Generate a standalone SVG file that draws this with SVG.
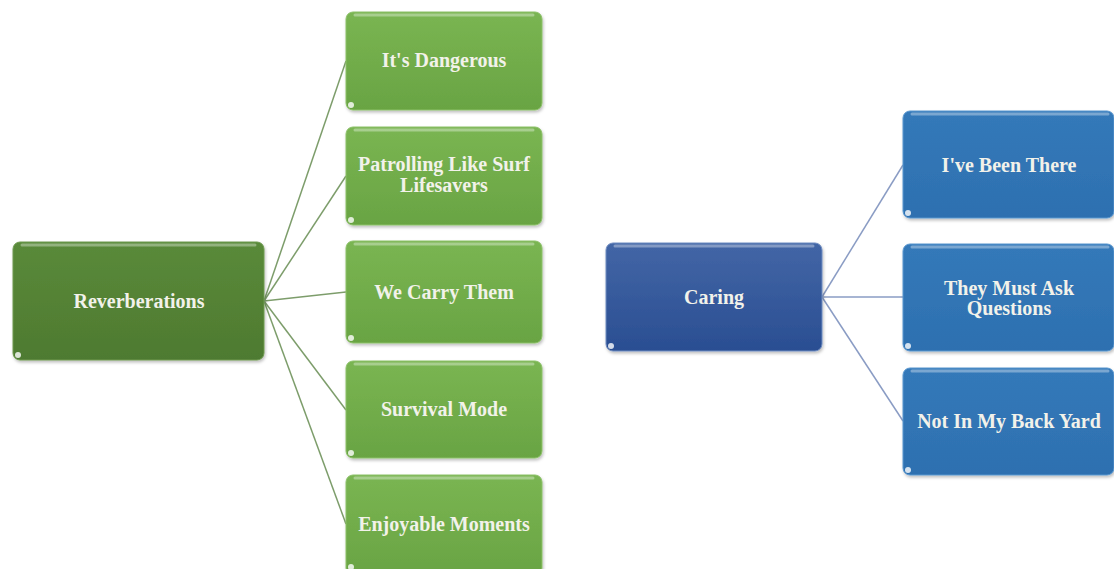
<svg xmlns="http://www.w3.org/2000/svg" width="1114" height="569" viewBox="0 0 1114 569">
<defs>
<linearGradient id="gDark" x1="0" y1="0" x2="0" y2="1"><stop offset="0" stop-color="#5a8a3a"/><stop offset="1" stop-color="#4e7a30"/></linearGradient>
<linearGradient id="gLight" x1="0" y1="0" x2="0" y2="1"><stop offset="0" stop-color="#7ab552"/><stop offset="1" stop-color="#69a443"/></linearGradient>
<linearGradient id="bDark" x1="0" y1="0" x2="0" y2="1"><stop offset="0" stop-color="#4366a6"/><stop offset="1" stop-color="#2a4e92"/></linearGradient>
<linearGradient id="bLight" x1="0" y1="0" x2="0" y2="1"><stop offset="0" stop-color="#3479b9"/><stop offset="1" stop-color="#2d70b0"/></linearGradient>
<filter id="sh" x="-10%" y="-10%" width="120%" height="130%"><feDropShadow dx="1" dy="2" stdDeviation="1.5" flood-color="#000" flood-opacity="0.25"/></filter>
</defs>
<style>
.box{filter:url(#sh)}
.hl{fill:none;stroke:#ffffff;stroke-opacity:0.35;stroke-width:3;stroke-linecap:round}
.dot{fill:#ffffff;fill-opacity:0.8}
.t{font-family:"Liberation Serif","Times New Roman",serif;font-weight:bold;font-size:20px;fill:#f2f2ea;text-anchor:middle}
.cg{stroke:#7d9d6b;stroke-width:1.5;fill:none}
.cb{stroke:#8a9cc4;stroke-width:1.5;fill:none}
</style>
<g id="connectors">
<line class="cg" x1="264" y1="301" x2="346" y2="61"/>
<line class="cg" x1="264" y1="301" x2="346" y2="176"/>
<line class="cg" x1="264" y1="301" x2="346" y2="292"/>
<line class="cg" x1="264" y1="301" x2="346" y2="410"/>
<line class="cg" x1="264" y1="301" x2="346" y2="524"/>
<line class="cb" x1="822" y1="297" x2="903" y2="165"/>
<line class="cb" x1="822" y1="297" x2="903" y2="297"/>
<line class="cb" x1="822" y1="297" x2="903" y2="421"/>
</g>
<g id="reverberations">
<rect class="box" x="13" y="242" width="251" height="118" rx="7" fill="url(#gDark)" stroke="#6e9a50" stroke-width="1"/>
<line class="hl" x1="22" y1="245" x2="255" y2="245"/>
<circle class="dot" cx="18" cy="355" r="3"/>
<text class="t" x="139" y="308">Reverberations</text>
</g>
<g id="dangerous">
<rect class="box" x="346" y="12" width="196" height="98" rx="7" fill="url(#gLight)" stroke="#8cc068" stroke-width="1"/>
<line class="hl" x1="355" y1="15" x2="533" y2="15"/>
<circle class="dot" cx="351" cy="105" r="3"/>
<text class="t" x="444" y="67">It's Dangerous</text>
</g>
<g id="patrolling">
<rect class="box" x="346" y="127" width="196" height="98" rx="7" fill="url(#gLight)" stroke="#8cc068" stroke-width="1"/>
<line class="hl" x1="355" y1="130" x2="533" y2="130"/>
<circle class="dot" cx="351" cy="220" r="3"/>
<text class="t" x="444" y="171">Patrolling Like Surf</text>
<text class="t" x="444" y="192">Lifesavers</text>
</g>
<g id="carry">
<rect class="box" x="346" y="241" width="196" height="102" rx="7" fill="url(#gLight)" stroke="#8cc068" stroke-width="1"/>
<line class="hl" x1="355" y1="244" x2="533" y2="244"/>
<circle class="dot" cx="351" cy="338" r="3"/>
<text class="t" x="444" y="299">We Carry Them</text>
</g>
<g id="survival">
<rect class="box" x="346" y="361" width="196" height="97" rx="7" fill="url(#gLight)" stroke="#8cc068" stroke-width="1"/>
<line class="hl" x1="355" y1="364" x2="533" y2="364"/>
<circle class="dot" cx="351" cy="453" r="3"/>
<text class="t" x="444" y="416">Survival Mode</text>
</g>
<g id="enjoyable">
<rect class="box" x="346" y="475" width="196" height="100" rx="7" fill="url(#gLight)" stroke="#8cc068" stroke-width="1"/>
<line class="hl" x1="355" y1="478" x2="533" y2="478"/>
<circle class="dot" cx="351" cy="567" r="3"/>
<text class="t" x="444" y="531">Enjoyable Moments</text>
</g>
<g id="caring">
<rect class="box" x="606" y="243" width="216" height="108" rx="7" fill="url(#bDark)" stroke="#6f8cc0" stroke-width="1"/>
<line class="hl" x1="615" y1="246" x2="813" y2="246"/>
<circle class="dot" cx="611" cy="346" r="3"/>
<text class="t" x="714" y="304">Caring</text>
</g>
<g id="been-there">
<rect class="box" x="903" y="111" width="211" height="107" rx="7" fill="url(#bLight)" stroke="#5a97cf" stroke-width="1"/>
<line class="hl" x1="912" y1="114" x2="1108" y2="114"/>
<circle class="dot" cx="908" cy="213" r="3"/>
<text class="t" x="1009" y="172">I've Been There</text>
</g>
<g id="ask-questions">
<rect class="box" x="903" y="244" width="211" height="107" rx="7" fill="url(#bLight)" stroke="#5a97cf" stroke-width="1"/>
<line class="hl" x1="912" y1="247" x2="1108" y2="247"/>
<circle class="dot" cx="908" cy="346" r="3"/>
<text class="t" x="1009" y="295">They Must Ask</text>
<text class="t" x="1009" y="315">Questions</text>
</g>
<g id="back-yard">
<rect class="box" x="903" y="368" width="211" height="107" rx="7" fill="url(#bLight)" stroke="#5a97cf" stroke-width="1"/>
<line class="hl" x1="912" y1="371" x2="1108" y2="371"/>
<circle class="dot" cx="908" cy="470" r="3"/>
<text class="t" x="1009" y="428">Not In My Back Yard</text>
</g>
</svg>
